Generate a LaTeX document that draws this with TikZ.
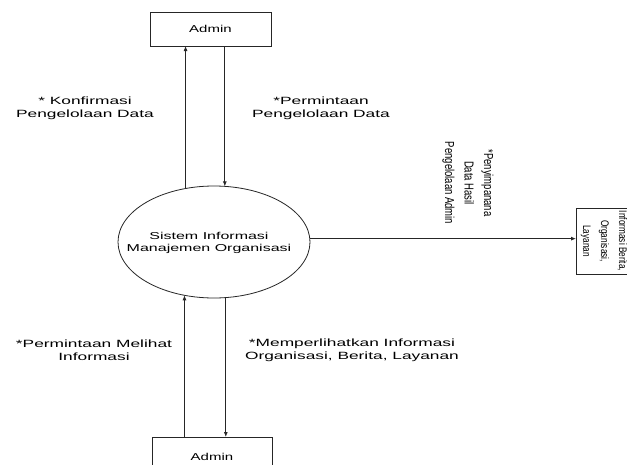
\documentclass[tikz,border=0pt]{standalone}
\usepackage{fontspec}
\setmainfont{Liberation Sans}
\newfontfamily\lblfont[FakeStretch=1.65]{Liberation Sans}
\newfontfamily\ellfont[FakeStretch=1.6]{Liberation Sans}
\newfontfamily\admfont[FakeStretch=1.5]{Liberation Sans}
\newfontfamily\rotfont[FakeStretch=0.73]{Liberation Sans}
\newfontfamily\extfont[FakeStretch=0.75]{Liberation Sans}
\usetikzlibrary{arrows.meta,shapes.geometric}
\tikzset{
  ln/.style={draw=black!85, line width=0.8pt},
  arr/.style={ln, -{Latex[length=5pt,width=4pt]}},
  box/.style={ln, rectangle, inner sep=0pt, outer sep=0pt, align=center},
  lbl/.style={align=center, inner sep=0pt, font=\lblfont\fontsize{10.5pt}{13pt}\selectfont},
}
\begin{document}
\begin{tikzpicture}[x=1pt, y=-1pt]
\useasboundingbox (0,0) rectangle (627,464);
\clip (0,0) rectangle (627,464);
\fill[white] (0,0) rectangle (627,464);

% entities
\node[box, minimum width=121pt, minimum height=34pt, font=\admfont\fontsize{10pt}{12pt}\selectfont] (top) at (210.5,29) {Admin};
\node[box, minimum width=120pt, minimum height=40pt, font=\admfont\fontsize{10pt}{12pt}\selectfont] (bot) at (212,457) {Admin};
\node[box, rotate=-90, minimum width=66pt, minimum height=52pt] (ext) at (602,241) {};
\node[align=center, inner sep=0pt, rotate=-90, font=\extfont\fontsize{11pt}{18pt}\selectfont] (exttext) at (604,241) {Informasi Berita,\\Organisasi,\\Layanan};

% process
\node[ln, ellipse, minimum width=192pt, minimum height=112pt, inner sep=0pt, outer sep=0pt] (sim) at (214,242) {};
\node[align=center, inner sep=0pt, font=\ellfont\fontsize{10pt}{12pt}\selectfont] (simtext) at (209,243) {Sistem Informasi\\Manajemen Organisasi};

% flows
\draw[arr] (sim.118.5) -- (sim.118.5 |- top.south);
\draw[arr] (top.south -| sim.79.8) -- (sim.79.8);
\draw[arr] (bot.north -| sim.241.5) -- (sim.241.5);
\draw[arr] (sim.282.2) -- (sim.282.2 |- bot.north);
\draw[arr] (sim.2.4) -- (sim.2.4 -| ext.south);

% labels
\node[lbl] (l1) at (85,108) {* Konfirmasi\\Pengelolaan Data};
\node[lbl] (l2) at (321,108) {*Permintaan\\Pengelolaan Data};
\node[lbl] (l3) at (94,350) {*Permintaan Melihat\\Informasi};
\node[lbl] (l4) at (352,350) {*Memperlihatkan Informasi\\Organisasi, Berita, Layanan};
\node[align=center, inner sep=0pt, rotate=-90, font=\rotfont\fontsize{13pt}{19.5pt}\selectfont] (l5) at (468,183) {*Penyimpanana\\Data Hasil\\Pengelolaan Admin};
\end{tikzpicture}
\end{document}
